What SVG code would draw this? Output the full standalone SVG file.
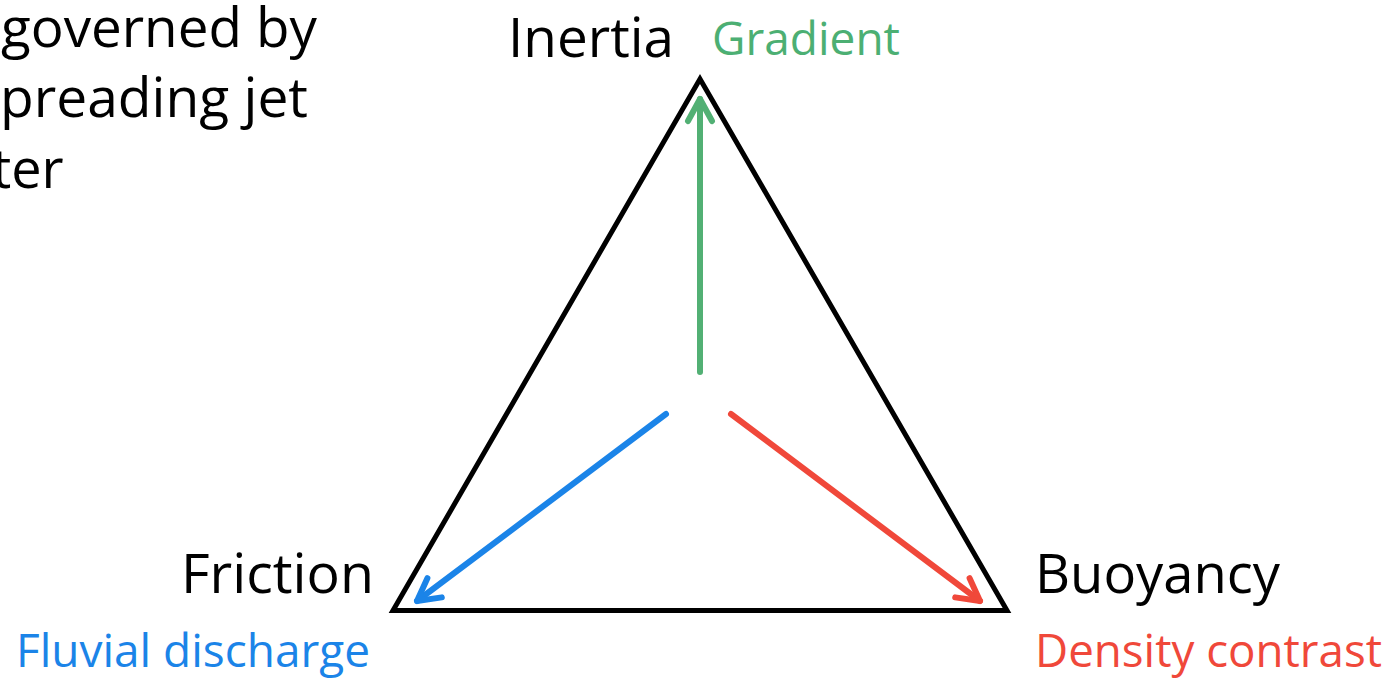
<svg xmlns="http://www.w3.org/2000/svg" width="1394" height="678" viewBox="0 0 1394 678">
<style>
.t{font-family:"Open Sans","Noto Sans","Liberation Sans",sans-serif;}
.big{font-size:54px;fill:#000;}
.sm{font-size:45px;}
.green{fill:#4caf73;}
.blue{fill:#1b84e8;}
.red{fill:#f0483a;}
.arrow{fill:none;stroke-width:6;stroke-linecap:round;stroke-linejoin:round;}
</style>
<defs>
<marker id="hg" markerUnits="userSpaceOnUse" orient="auto" refX="0" refY="0" overflow="visible" markerWidth="1" markerHeight="1">
<path d="M-22,-12 L0,0 L-22,12" fill="none" stroke="#52b074" stroke-width="6" stroke-linecap="round" stroke-linejoin="round"/>
</marker>
<marker id="hb" markerUnits="userSpaceOnUse" orient="auto" refX="0" refY="0" overflow="visible" markerWidth="1" markerHeight="1">
<path d="M-22,-12 L0,0 L-22,12" fill="none" stroke="#1b84e8" stroke-width="6" stroke-linecap="round" stroke-linejoin="round"/>
</marker>
<marker id="hr" markerUnits="userSpaceOnUse" orient="auto" refX="0" refY="0" overflow="visible" markerWidth="1" markerHeight="1">
<path d="M-22,-12 L0,0 L-22,12" fill="none" stroke="#f0483a" stroke-width="6" stroke-linecap="round" stroke-linejoin="round"/>
</marker>
</defs>
<rect width="1394" height="678" fill="#fff"/>
<g id="caption" class="t big">
<text x="1" y="47" textLength="316" lengthAdjust="spacingAndGlyphs">governed by</text>
<text x="0" y="117" textLength="308" lengthAdjust="spacingAndGlyphs">preading jet</text>
<text x="-8" y="188">ter</text>
</g>
<g id="triangle">
<polygon points="700,79 393,610.5 1007,610.5" fill="none" stroke="#000" stroke-width="5" stroke-linejoin="miter" stroke-miterlimit="10"/>
</g>
<g id="connectors">
<line class="arrow" x1="700" y1="372" x2="700" y2="99" stroke="#52b074" marker-end="url(#hg)"/>
<line class="arrow" x1="666" y1="414" x2="417" y2="601" stroke="#1b84e8" marker-end="url(#hb)"/>
<line class="arrow" x1="731" y1="414" x2="980" y2="601" stroke="#f0483a" marker-end="url(#hr)"/>
</g>
<g id="node-inertia" class="t">
<text class="big" x="508" y="57" textLength="166" lengthAdjust="spacingAndGlyphs">Inertia</text>
<text class="sm green" x="712" y="55" textLength="188" lengthAdjust="spacingAndGlyphs">Gradient</text>
</g>
<g id="node-friction" class="t">
<text class="big" x="181" y="593" textLength="193" lengthAdjust="spacingAndGlyphs">Friction</text>
<text class="sm blue" x="16" y="667" textLength="354" lengthAdjust="spacingAndGlyphs">Fluvial discharge</text>
</g>
<g id="node-buoyancy" class="t">
<text class="big" x="1035" y="593" textLength="245" lengthAdjust="spacingAndGlyphs">Buoyancy</text>
<text class="sm red" x="1035" y="667" textLength="347" lengthAdjust="spacingAndGlyphs">Density contrast</text>
</g>
</svg>
